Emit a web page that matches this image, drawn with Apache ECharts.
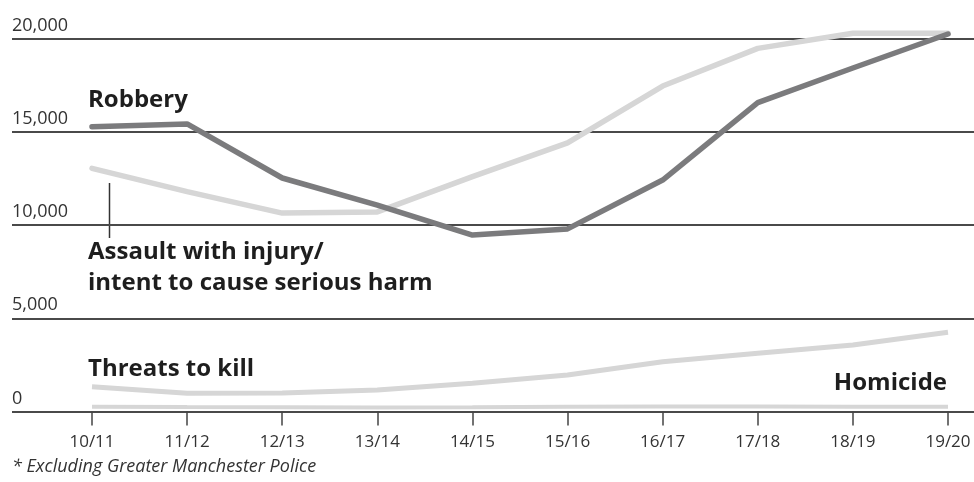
<!DOCTYPE html>
<html>
<head>
<meta charset="utf-8">
<style>
  html, body { margin: 0; padding: 0; background: #fff; }
  #chart { width: 974px; height: 482px; }
</style>
<script src="https://cdn.jsdelivr.net/npm/echarts@6/dist/echarts.min.js"></script>
</head>
<body>
<div id="chart"></div>
<script>
// Financial years
const years = ['10/11', '11/12', '12/13', '13/14', '14/15', '15/16', '16/17', '17/18', '18/19', '19/20'];

// Recorded offences per year
const robbery = [15270, 15420, 12520, 11070, 9460, 9790, 12410, 16560, 18420, 20240];
const assault = [13040, 11790, 10640, 10700, 12590, 14400, 17450, 19470, 20280, 20280];
const threatsToKill = [1330, 975, 990, 1150, 1510, 1960, 2670, 3120, 3570, 4250];
const homicide = [260, 240, 230, 220, 230, 250, 270, 270, 260, 250];

// Value axis ticks
const yTicks = [0, 5000, 10000, 15000, 20000];

const FONT = '"Open Sans", "Noto Sans", sans-serif';
const DARK = '#7b7b7d';
const LIGHT = '#d6d6d6';
const INK = '#1e1e1e';

const chart = echarts.init(document.getElementById('chart'), null, { renderer: 'canvas' });

const gridTop = 38.5, gridBottom = 70.5;

chart.setOption({
  animation: false,
  backgroundColor: '#fff',
  grid: [
    { left: 12, right: 0, top: gridTop, bottom: gridBottom },
    { left: 92, right: 26, top: gridTop, bottom: gridBottom }
  ],
  xAxis: [
    { gridIndex: 0, type: 'value', min: 0, max: 1, show: false },
    {
      gridIndex: 1, type: 'category', data: years, boundaryGap: false,
      axisLine: { show: false },
      axisTick: { show: true, length: 14, lineStyle: { color: '#444', width: 1.5 } },
      axisLabel: { color: '#333', fontFamily: FONT, fontSize: 17, margin: 22 },
      splitLine: { show: false }
    }
  ],
  yAxis: [
    {
      gridIndex: 0, type: 'value', min: yTicks[0], max: yTicks[yTicks.length - 1], interval: 5000,
      axisLine: { show: false }, axisTick: { show: false },
      splitLine: { show: true, lineStyle: { color: '#4a4a4a', width: 2 } },
      axisLabel: {
        inside: true, margin: 0, verticalAlign: 'bottom', lineHeight: 26,
        color: '#333', fontFamily: FONT, fontSize: 18,
        formatter: v => v === 0 ? '0' : v.toLocaleString('en-GB')
      }
    },
    { gridIndex: 1, type: 'value', min: yTicks[0], max: yTicks[yTicks.length - 1], interval: 5000, show: false }
  ],
  series: [
    { name: 'Homicide', type: 'line', xAxisIndex: 1, yAxisIndex: 1, data: homicide, clip: false,
      symbol: 'none', lineStyle: { color: LIGHT, width: 4 }, z: 3 },
    { name: 'Threats to kill', type: 'line', xAxisIndex: 1, yAxisIndex: 1, data: threatsToKill, clip: false,
      symbol: 'none', lineStyle: { color: LIGHT, width: 5 }, z: 3 },
    { name: 'Assault with injury/intent to cause serious harm', type: 'line', xAxisIndex: 1, yAxisIndex: 1,
      data: assault, clip: false, symbol: 'none', lineStyle: { color: LIGHT, width: 5.5, cap: 'round' }, z: 3 },
    { name: 'Robbery', type: 'line', xAxisIndex: 1, yAxisIndex: 1, data: robbery, clip: false,
      symbol: 'none', lineStyle: { color: DARK, width: 5.5, cap: 'round' }, z: 4 }
  ],
  graphic: [
    { type: 'text', left: 88, top: 86, style: { text: 'Robbery', fill: INK, font: 'bold 24px ' + FONT, lineHeight: 28 } },
    { type: 'line', shape: { x1: 109.5, y1: 183, x2: 109.5, y2: 238 }, style: { stroke: '#333', lineWidth: 1.5 } },
    { type: 'text', left: 88, top: 236.5, style: { text: 'Assault with injury/\nintent to cause serious harm', fill: INK, font: 'bold 24px ' + FONT, lineHeight: 31 } },
    { type: 'text', left: 88, top: 355, style: { text: 'Threats to kill', fill: INK, font: 'bold 24px ' + FONT, lineHeight: 28 } },
    { type: 'text', right: 27, top: 369, style: { text: 'Homicide', fill: INK, font: 'bold 24px ' + FONT, lineHeight: 28 } },
    { type: 'text', left: 12, top: 456, style: { text: '* Excluding Greater Manchester Police', fill: '#333', font: 'italic 18px ' + FONT, lineHeight: 22 } }
  ]
});
</script>
</body>
</html>
